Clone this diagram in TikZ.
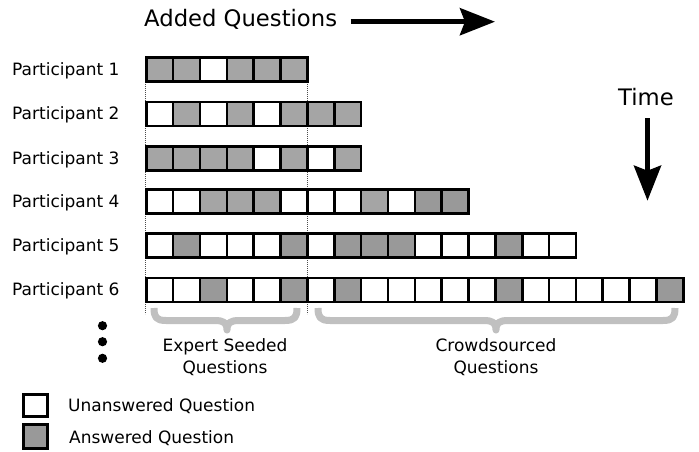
\documentclass[tikz,border=0pt]{standalone}
\usepackage{fontspec}
\setmainfont{DejaVu Sans}
\usetikzlibrary{arrows.meta}
\definecolor{gA}{HTML}{A5A5A5}
\definecolor{gB}{HTML}{999999}
\definecolor{braceC}{HTML}{C0C0C0}
\begin{document}
\begin{tikzpicture}[x=1pt,y=-1pt,
  cell/.style={draw=black, line width=2.6pt, minimum width=26.85pt, minimum height=24pt, inner sep=0pt, outer sep=0pt},
  cellW/.style={fill=white}, cellG/.style={fill=gA}, cellD/.style={fill=gB},
  lab/.style={font=\fontsize{17}{20}\selectfont, inner sep=0pt, anchor=base west},
  big/.style={font=\fontsize{22.7}{26}\selectfont, inner sep=0pt},
  brlab/.style={font=\fontsize{17}{21.8}\selectfont, inner sep=0pt, align=center, anchor=north},
  guide/.style={draw=black!70, line width=0.7pt, dash pattern=on 0.8pt off 1.2pt},
  bracestyle/.style={draw=braceC, line width=7pt, line cap=butt, line join=round},
  bigarrow/.style={line width=5pt, -{Stealth[length=35pt,width=27pt,inset=5pt]}},
  dot/.style={circle, fill=black, minimum size=9.2pt, inner sep=0pt}
]
\useasboundingbox (0,0) rectangle (699,452);

% guides
\coordinate (g1t) at (145,56);
\coordinate (g1b) at (145,314);
\coordinate (g2t) at (307.4,56);
\coordinate (g2b) at (307.4,314);
\draw[guide] (g1t) -- (g1b);
\draw[guide] (g2t) -- (g2b);

% rows
\foreach \c [count=\k] in {G,G,W,G,G,G}
  \node[cell,cell\c] (r1-\k) at ({146.3+26.85*(\k-0.5)},69.5) {};
\foreach \c [count=\k] in {W,G,W,G,W,G,G,G}
  \node[cell,cell\c] (r2-\k) at ({146.3+26.85*(\k-0.5)},114) {};
\foreach \c [count=\k] in {G,G,G,G,W,G,W,G}
  \node[cell,cell\c] (r3-\k) at ({146.3+26.85*(\k-0.5)},158.3) {};
\foreach \c [count=\k] in {W,W,G,G,G,W,W,W,G,W,D,D}
  \node[cell,cell\c] (r4-\k) at ({146.3+26.85*(\k-0.5)},201.7) {};
\foreach \c [count=\k] in {W,D,W,W,W,D,W,D,D,D,W,W,W,D,W,W}
  \node[cell,cell\c] (r5-\k) at ({146.3+26.85*(\k-0.5)},245.5) {};
\foreach \c [count=\k] in {W,W,D,W,W,D,W,D,W,W,W,W,W,D,W,W,W,W,W,D}
  \node[cell,cell\c] (r6-\k) at ({146.3+26.85*(\k-0.5)},290) {};

% participant labels
\node[lab] (p1) at (12,75.3) {Participant 1};
\node[lab] (p2) at (12,119.8) {Participant 2};
\node[lab] (p3) at (12,164.1) {Participant 3};
\node[lab] (p4) at (12,207.5) {Participant 4};
\node[lab] (p5) at (12,251.3) {Participant 5};
\node[lab] (p6) at (12,295.8) {Participant 6};

% dots
\node[dot] (d1) at (102.5,325.7) {};
\node[dot] (d2) at (102.5,341.7) {};
\node[dot] (d3) at (102.5,358.3) {};

% braces
\draw[bracestyle] (154,308) .. controls (154,317) and (156,320.5) .. (166,320.5) -- (215,320.5)
  .. controls (224,320.5) and (227,323) .. (227,330)
  .. controls (227,323) and (230,320.5) .. (239,320.5) -- (285,320.5)
  .. controls (295,320.5) and (297,317) .. (297,308);
\draw[bracestyle] (318,308) .. controls (318,317) and (320,320.5) .. (330,320.5) -- (484,320.5)
  .. controls (493,320.5) and (496,323) .. (496,330)
  .. controls (496,323) and (499,320.5) .. (508,320.5) -- (663,320.5)
  .. controls (673,320.5) and (675,317) .. (675,308);
\node[brlab] (expert) at (225,338.5) {Expert Seeded\\Questions};
\node[brlab] (crowd) at (496,338.5) {Crowdsourced\\Questions};

% title and arrow
\node[big, anchor=base west] (title) at (144,26.7) {Added Questions};
\coordinate (a1) at (350.7,21.7);
\coordinate (a2) at (495,21.7);
\draw[bigarrow] (a1) -- (a2);

% time
\node[big, anchor=base] (time) at (646,105) {Time};
\coordinate (t1) at (647.5,118.3);
\coordinate (t2) at (647.5,200.7);
\draw[bigarrow] (t1) -- (t2);

% legend
\node[cell, fill=white, minimum width=24.4pt, minimum height=22.4pt] (lw) at (35.5,405.5) {};
\node[cell, fill=gB, minimum width=24.4pt, minimum height=24.4pt] (lg) at (35.5,436.5) {};
\node[lab] (lwt) at (68,411) {Unanswered Question};
\node[lab] (lgt) at (69,443) {Answered Question};
\end{tikzpicture}
\end{document}
